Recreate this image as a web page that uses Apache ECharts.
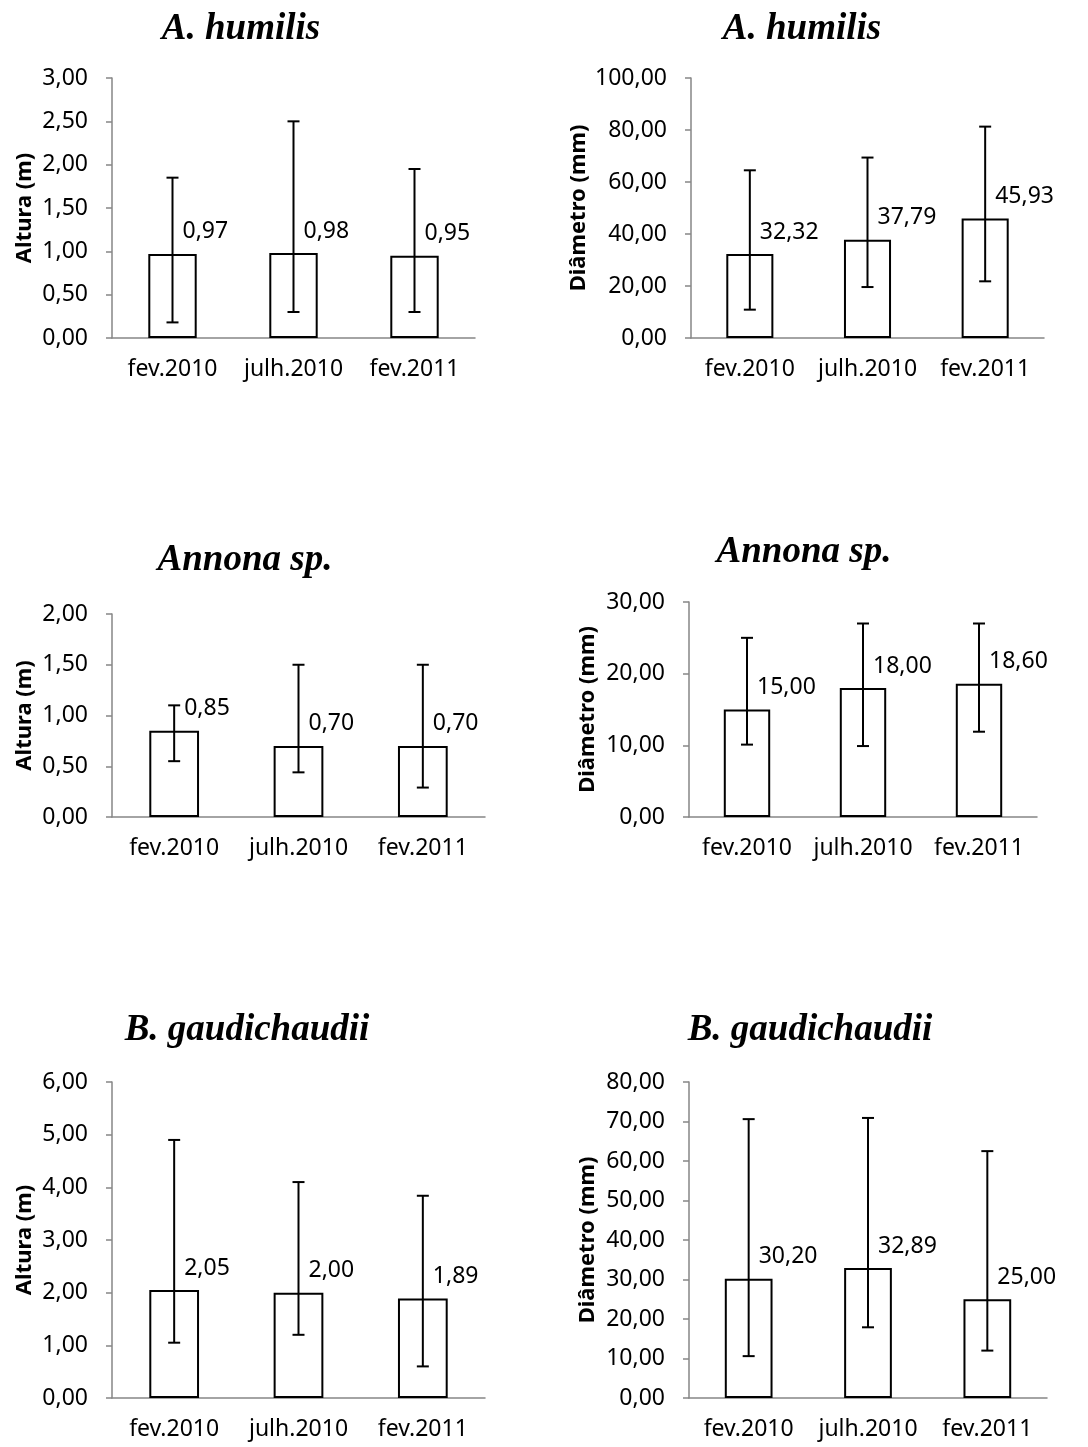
<!DOCTYPE html>
<html>
<head>
<meta charset="utf-8">
<script src="https://cdn.jsdelivr.net/npm/echarts@6/dist/echarts.min.js"></script>
<style>
html,body{margin:0;padding:0;background:#fff;}
#c{width:1088px;height:1447px;}
</style>
</head>
<body>
<div id="c"></div>
<script>
const categories = ['fev.2010', 'julh.2010', 'fev.2011'];

// A. humilis
const humilisAltura = [0.97, 0.98, 0.95];
const humilisAlturaLow = [0.18, 0.30, 0.30];
const humilisAlturaHigh = [1.85, 2.50, 1.95];
const humilisDiam = [32.32, 37.79, 45.93];
const humilisDiamLow = [10.9, 19.6, 21.8];
const humilisDiamHigh = [64.5, 69.4, 81.3];

// Annona sp.
const annonaAltura = [0.85, 0.70, 0.70];
const annonaAlturaLow = [0.55, 0.44, 0.29];
const annonaAlturaHigh = [1.10, 1.50, 1.50];
const annonaDiam = [15.00, 18.00, 18.60];
const annonaDiamLow = [10.1, 9.9, 11.9];
const annonaDiamHigh = [25.0, 27.0, 27.0];

// B. gaudichaudii
const gaudAltura = [2.05, 2.00, 1.89];
const gaudAlturaLow = [1.05, 1.20, 0.60];
const gaudAlturaHigh = [4.90, 4.10, 3.84];
const gaudDiam = [30.20, 32.89, 25.00];
const gaudDiamLow = [10.6, 17.9, 12.0];
const gaudDiamHigh = [70.6, 70.9, 62.5];

const titles = ['A. humilis', 'A. humilis', 'Annona sp.', 'Annona sp.', 'B. gaudichaudii', 'B. gaudichaudii'];
const yNames = ['Altura (m)', 'Diâmetro (mm)', 'Altura (m)', 'Diâmetro (mm)', 'Altura (m)', 'Diâmetro (mm)'];
const yMax = [3, 100, 2, 30, 6, 80];
const yInterval = [0.5, 20, 0.5, 10, 1, 10];

const panels = [
  {mean: humilisAltura, low: humilisAlturaLow, high: humilisAlturaHigh},
  {mean: humilisDiam, low: humilisDiamLow, high: humilisDiamHigh},
  {mean: annonaAltura, low: annonaAlturaLow, high: annonaAlturaHigh},
  {mean: annonaDiam, low: annonaDiamLow, high: annonaDiamHigh},
  {mean: gaudAltura, low: gaudAlturaLow, high: gaudAlturaHigh},
  {mean: gaudDiam, low: gaudDiamLow, high: gaudDiamHigh}
];

// layout
const grids = [
  {left: 112, top: 78, width: 363, height: 260},
  {left: 691, top: 78, width: 353, height: 260},
  {left: 112, top: 614, width: 373, height: 203},
  {left: 689, top: 602, width: 348, height: 215},
  {left: 112, top: 1082, width: 373, height: 316},
  {left: 689, top: 1082, width: 358, height: 316}
];
const titlePos = [
  {x: 236, y: 6}, {x: 797, y: 6},
  {x: 240, y: 537}, {x: 799, y: 529},
  {x: 242, y: 1007}, {x: 805, y: 1007}
];
const nameGaps = [76, 101, 76, 90, 76, 90];

const AX = '#868686';
const FONT = '"Noto Sans", sans-serif';
const FS = 23;
const fmt = v => v.toFixed(2).replace('.', ',');

const option = {
  backgroundColor: '#fff',
  animation: false,
  title: titles.map((t, i) => ({
    text: t,
    left: titlePos[i].x,
    top: titlePos[i].y,
    textAlign: 'center',
    textStyle: {fontFamily: '"Liberation Serif", serif', fontStyle: 'italic', fontWeight: 'bold', fontSize: 37, color: '#000'}
  })),
  grid: grids,
  xAxis: grids.map((g, i) => ({
    type: 'category',
    gridIndex: i,
    data: categories,
    axisLine: {show: true, lineStyle: {color: AX, width: 1.5}},
    axisTick: {show: false},
    axisLabel: {color: '#000', fontFamily: FONT, fontSize: FS, margin: 20, interval: 0}
  })),
  yAxis: grids.map((g, i) => ({
    type: 'value',
    gridIndex: i,
    min: 0,
    max: yMax[i],
    interval: yInterval[i],
    name: yNames[i],
    nameLocation: 'middle',
    nameRotate: 90,
    nameGap: nameGaps[i],
    nameTextStyle: {fontFamily: FONT, fontWeight: 'bold', fontSize: 22, color: '#000'},
    axisLine: {show: true, lineStyle: {color: AX, width: 1.5}},
    axisTick: {show: true, length: 6, inside: false, lineStyle: {color: AX, width: 1.5}},
    splitLine: {show: false},
    axisLabel: {color: '#000', fontFamily: FONT, fontSize: FS, margin: 24, formatter: fmt}
  })),
  series: []
};

panels.forEach((p, i) => {
  option.series.push({
    type: 'bar',
    xAxisIndex: i,
    yAxisIndex: i,
    data: p.mean,
    barWidth: '40%',
    itemStyle: {color: '#fff', borderColor: '#000', borderWidth: 2},
    label: {
      show: true,
      position: ['50%', 0],
      offset: [10, -22],
      align: 'left',
      verticalAlign: 'middle',
      color: '#000',
      fontFamily: FONT,
      fontSize: FS,
      formatter: d => fmt(d.value)
    },
    z: 2
  });
  option.series.push({
    type: 'custom',
    xAxisIndex: i,
    yAxisIndex: i,
    data: p.mean.map((m, k) => [k, p.low[k], p.high[k]]),
    renderItem: function (params, api) {
      const lo = api.coord([api.value(0), api.value(1)]);
      const hi = api.coord([api.value(0), api.value(2)]);
      const cap = 6;
      const st = {stroke: '#000', lineWidth: 2};
      return {
        type: 'group',
        children: [
          {type: 'line', shape: {x1: lo[0], y1: lo[1], x2: hi[0], y2: hi[1]}, style: st},
          {type: 'line', shape: {x1: lo[0] - cap, y1: lo[1], x2: lo[0] + cap, y2: lo[1]}, style: st},
          {type: 'line', shape: {x1: hi[0] - cap, y1: hi[1], x2: hi[0] + cap, y2: hi[1]}, style: st}
        ]
      };
    },
    z: 3
  });
});

const chart = echarts.init(document.getElementById('c'), null, {renderer: 'canvas'});
chart.setOption(option);
</script>
</body>
</html>
